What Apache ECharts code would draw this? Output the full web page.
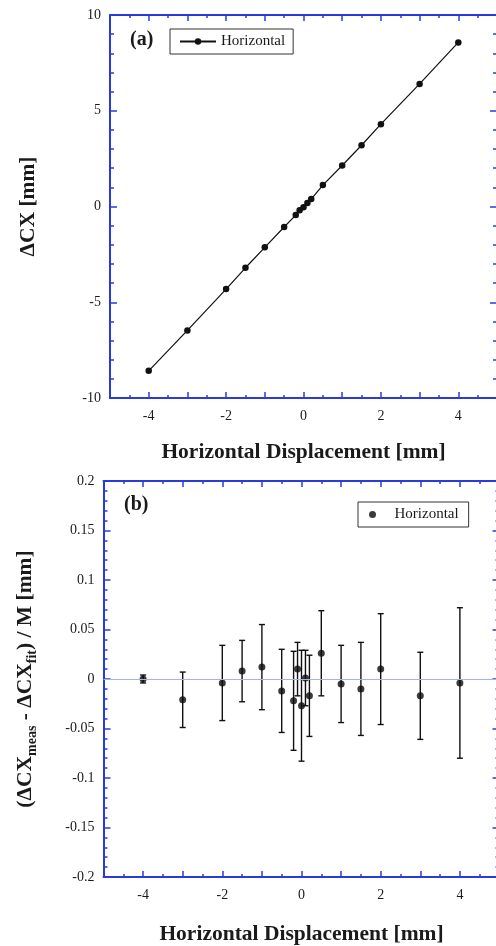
<!DOCTYPE html>
<html>
<head>
<meta charset="utf-8">
<script src="https://cdn.jsdelivr.net/npm/echarts@6/dist/echarts.min.js"></script>
<style>
  html, body { margin: 0; padding: 0; background: #fff; }
  #chart { width: 496px; height: 946px; }
</style>
</head>
<body>
<div id="chart"></div>
<script>
// displacement settings (mm)
const displacement = [-4, -3, -2, -1.5, -1, -0.5, -0.2, -0.1, 0, 0.1, 0.2, 0.5, 1, 1.5, 2, 3, 4];
// panel (a): measured delta CX
const deltaCX = [-8.58, -6.47, -4.31, -3.2, -2.13, -1.07, -0.45, -0.19, -0.04, 0.18, 0.39, 1.12, 2.14, 3.2, 4.3, 6.4, 8.57];
// panel (b): residuals and their errors
const residual = [0.000, -0.021, -0.004, 0.008, 0.012, -0.012, -0.022, 0.010, -0.027, 0.001, -0.017, 0.026, -0.005, -0.010, 0.010, -0.017, -0.004];
const residualErr = [0.004, 0.028, 0.038, 0.031, 0.043, 0.042, 0.050, 0.027, 0.056, 0.028, 0.041, 0.043, 0.039, 0.047, 0.056, 0.044, 0.076];

const serif = "Liberation Serif";
const axisBlue = "#2a3bd8";
const ink = "#1a1a1a";

const chart = echarts.init(document.getElementById("chart"), null, { renderer: "canvas" });

function xAxisDef(grid, pos, showLabel, gap, withName) {
  return {
    type: "value", gridIndex: grid, position: pos,
    min: -5, max: 5, interval: 1,
    axisLine: { show: true, onZero: false, lineStyle: { color: axisBlue, width: 2 } },
    axisTick: { show: true, inside: true, length: 6, lineStyle: { color: axisBlue, width: 1.5 } },
    minorTick: { show: true, splitNumber: 2, length: 3, lineStyle: { color: axisBlue, width: 1.5 } },
    splitLine: { show: false },
    axisLabel: {
      show: showLabel, margin: 11, color: ink, fontFamily: serif, fontSize: 14,
      formatter: v => (v % 2 === 0 && Math.abs(v) < 5 ? String(v) : "")
    },
    name: withName ? "Horizontal Displacement [mm]" : "",
    nameLocation: "middle", nameGap: gap,
    nameTextStyle: { color: ink, fontFamily: serif, fontSize: 21.5, fontWeight: "bold" }
  };
}

function yAxisDef(grid, pos, min, max, interval, minorSplit, showLabel, name, gap, fmt) {
  return {
    type: "value", gridIndex: grid, position: pos,
    min: min, max: max, interval: interval,
    axisLine: { show: true, onZero: false, lineStyle: { color: axisBlue, width: 2 } },
    axisTick: { show: true, inside: true, length: 7, lineStyle: { color: axisBlue, width: 1.5 } },
    minorTick: { show: true, splitNumber: minorSplit, length: 4, lineStyle: { color: axisBlue, width: 1.5 } },
    splitLine: { show: false },
    axisLabel: { show: showLabel, margin: 9, color: ink, fontFamily: serif, fontSize: 14, formatter: fmt },
    name: name, nameLocation: "middle", nameGap: gap,
    nameTextStyle: {
      color: ink, fontFamily: serif, fontSize: 21.5, fontWeight: "bold",
      rich: {
        b: { fontFamily: serif, fontSize: 21.5, fontWeight: "bold", color: ink, lineHeight: 28, verticalAlign: "middle" },
        s: { fontFamily: serif, fontSize: 14, fontWeight: "bold", color: ink, lineHeight: 28, verticalAlign: "bottom", padding: [8, 0, 0, 0] }
      }
    }
  };
}

const fmtTop = v => String(v);
const fmtBot = v => (Math.abs(v) < 1e-9 ? "0" : String(+v.toFixed(2)));

const option = {
  animation: false,
  backgroundColor: "#fff",
  grid: [
    { left: 110, top: 15, width: 387, height: 383, outerBoundsMode: "none" },
    { left: 103.5, top: 481, width: 396, height: 396, outerBoundsMode: "none" }
  ],
  xAxis: [
    xAxisDef(0, "bottom", true, 43, true),
    xAxisDef(0, "top", false, 0, false),
    xAxisDef(1, "bottom", true, 46, true),
    xAxisDef(1, "top", false, 0, false)
  ],
  yAxis: [
    yAxisDef(0, "left", -10, 10, 5, 5, true, "ΔCX [mm]", 71, fmtTop),
    yAxisDef(0, "right", -10, 10, 5, 5, false, "", 0, fmtTop),
    yAxisDef(1, "left", -0.2, 0.2, 0.05, 5, true,
      "{b|(ΔCX}{s|meas}{b| - ΔCX}{s|fit}{b|) / M [mm]}", 64, fmtBot),
    yAxisDef(1, "right", -0.2, 0.2, 0.05, 5, false, "", 0, fmtBot)
  ],
  legend: [
    {
      left: 170, top: 29, padding: [5, 8, 5, 9],
      borderColor: "#333", borderWidth: 1, borderRadius: 0,
      itemWidth: 36, itemHeight: 8, itemGap: 0,
      data: ["Horizontal (a)"],
      formatter: () => "Horizontal",
      textStyle: { color: ink, fontFamily: serif, fontSize: 15 }
    },
    {
      left: 358, top: 502, padding: [5, 10, 5, 11],
      borderColor: "#333", borderWidth: 1, borderRadius: 0,
      itemWidth: 34, itemHeight: 7, itemGap: 0, icon: "circle",
      data: ["Horizontal (b)"],
      formatter: () => "Horizontal",
      textStyle: { color: ink, fontFamily: serif, fontSize: 15 }
    }
  ],
  graphic: [
    { type: "text", left: 130, top: 30, style: { text: "(a)", font: "bold 20px 'Liberation Serif'", fill: ink } },
    { type: "text", left: 124, top: 495, style: { text: "(b)", font: "bold 20px 'Liberation Serif'", fill: ink } }
  ],
  series: [
    {
      name: "Horizontal (a)", type: "line", xAxisIndex: 0, yAxisIndex: 0,
      data: displacement.map((x, i) => [x, deltaCX[i]]),
      symbol: "circle", symbolSize: 6.5,
      lineStyle: { color: "#111", width: 1.2 },
      itemStyle: { color: "#111" }
    },
    {
      name: "errbars", type: "custom", xAxisIndex: 2, yAxisIndex: 2, z: 3,
      data: displacement.map((x, i) => [x, residual[i] - residualErr[i], residual[i] + residualErr[i]]),
      renderItem: (params, api) => {
        const lo = api.coord([api.value(0), api.value(1)]);
        const hi = api.coord([api.value(0), api.value(2)]);
        const cap = 3;
        const st = { stroke: "#111", lineWidth: 1.4 };
        return {
          type: "group",
          children: [
            { type: "line", shape: { x1: lo[0], y1: lo[1], x2: hi[0], y2: hi[1] }, style: st },
            { type: "line", shape: { x1: lo[0] - cap, y1: lo[1], x2: lo[0] + cap, y2: lo[1] }, style: st },
            { type: "line", shape: { x1: hi[0] - cap, y1: hi[1], x2: hi[0] + cap, y2: hi[1] }, style: st }
          ]
        };
      }
    },
    {
      name: "Horizontal (b)", type: "scatter", xAxisIndex: 2, yAxisIndex: 2, z: 4,
      data: displacement.map((x, i) => [x, residual[i]]),
      symbol: "circle", symbolSize: 7,
      itemStyle: { color: "#0a0a0a" },
      markLine: {
        silent: true, symbol: "none", label: { show: false },
        lineStyle: { color: "#9fb5f2", width: 1, type: "solid" },
        data: [{ yAxis: 0 }]
      }
    }
  ]
};

chart.setOption(option);
window.addEventListener("resize", chart.resize);
</script>
</body>
</html>
